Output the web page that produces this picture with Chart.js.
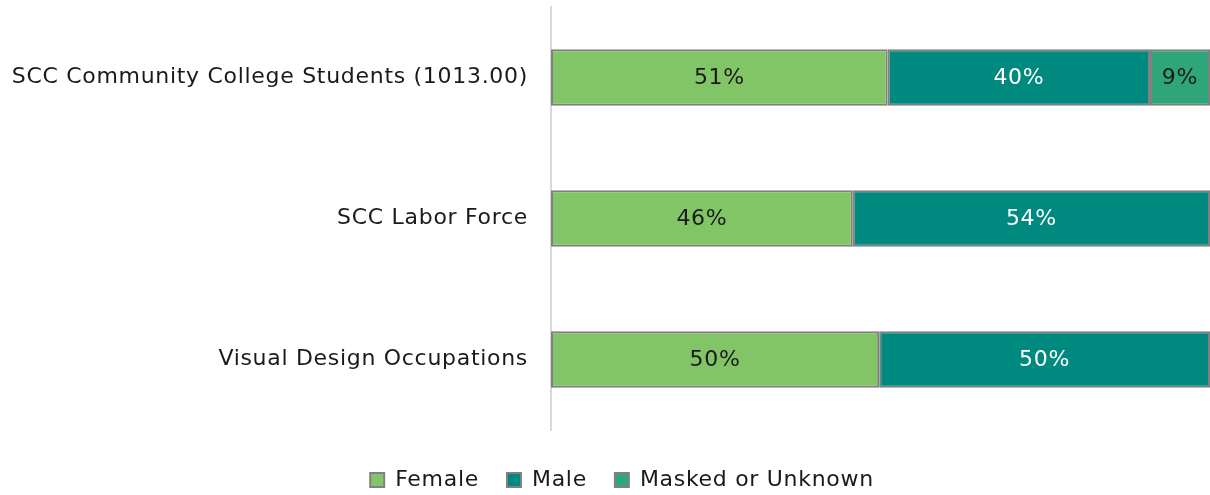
<!DOCTYPE html>
<html>
<head>
<meta charset="utf-8">
<script src="https://cdn.jsdelivr.net/npm/chart.js@4.4.1/dist/chart.umd.min.js"></script>
<style>
  html, body { margin: 0; padding: 0; background: #fff; }
  #wrap { width: 1210px; height: 495px; }
</style>
</head>
<body>
<div id="wrap"><canvas id="c"></canvas></div>
<script>
const categories = ['SCC Community College Students (1013.00)', 'SCC Labor Force', 'Visual Design Occupations'];
const female = [51.1, 45.8, 49.8];
const male = [39.8, 54.2, 50.2];
const masked = [9.1, 0, 0];

const FONT = "'DejaVu Sans', sans-serif";
const SPACING = '0.7px'; // the original face is wider than anything installed

// writes the rounded percentage in the middle of each segment
const barLabels = {
    id: 'barLabels',
    afterDatasetsDraw(chart) {
        const ctx = chart.ctx;
        ctx.save();
        ctx.font = '22px ' + FONT;
        ctx.textAlign = 'center';
        ctx.textBaseline = 'middle';
        chart.data.datasets.forEach((ds, i) => {
            chart.getDatasetMeta(i).data.forEach((bar, j) => {
                const v = ds.data[j];
                if (!v) return;
                const p = bar.getProps(['x', 'y', 'base'], true);
                ctx.fillStyle = ds.labelColor;
                ctx.fillText(Math.round(v) + '%', (p.x + p.base) / 2, p.y + 1);
            });
        });
        ctx.restore();
    }
};

// legend sits in a fixed 65px strip under the plot, nudged to match the original
const legendSpot = {
    id: 'legendSpot',
    beforeInit(chart) {
        const fit = chart.legend.fit;
        chart.legend.fit = function () {
            fit.call(this);
            this.height = 65;
        };
    },
    beforeLayout(chart) { chart.ctx.letterSpacing = SPACING; },
    beforeDraw(chart) { chart.ctx.letterSpacing = SPACING; },
    afterLayout(chart) {
        const lg = chart.legend;
        lg.top += 11; lg.bottom += 11;
        lg.left += 17; lg.right += 17;
    }
};

new Chart(document.getElementById('c'), {
    type: 'bar',
    data: {
        labels: categories,
        datasets: [
            { label: 'Female', data: female, backgroundColor: '#82C566', labelColor: '#1a1a1a' },
            { label: 'Male', data: male, backgroundColor: '#00897F', labelColor: '#ffffff' },
            { label: 'Masked or Unknown', data: masked, backgroundColor: '#2EA67A', labelColor: '#1a1a1a' },
        ].map(d => Object.assign(d, {
            borderColor: '#808080',
            borderWidth: 2,
            borderSkipped: false,
            categoryPercentage: 1,
            barPercentage: 0.4,
        })),
    },
    options: {
        indexAxis: 'y',
        responsive: true,
        maintainAspectRatio: false,
        animation: false,
        layout: { padding: { top: 7, right: 0, left: 0, bottom: 0 } },
        plugins: {
            legend: {
                position: 'bottom',
                labels: {
                    font: { size: 22, family: FONT },
                    color: '#1a1a1a',
                    boxWidth: 14,
                    boxHeight: 14,
                    padding: 28,
                },
            },
            tooltip: { enabled: false },
        },
        scales: {
            x: { stacked: true, min: 0, max: 100, display: false },
            y: {
                stacked: true,
                grid: { display: false, drawTicks: false },
                border: { color: '#d9d9d9', width: 2 },
                ticks: { color: '#1a1a1a', font: { size: 22, family: FONT }, padding: 23 },
                afterFit(scale) {
                    scale.width = 551;
                    scale.paddingTop = 0;
                    scale.paddingBottom = 0;
                },
            },
        },
    },
    plugins: [barLabels, legendSpot],
});
</script>
</body>
</html>
